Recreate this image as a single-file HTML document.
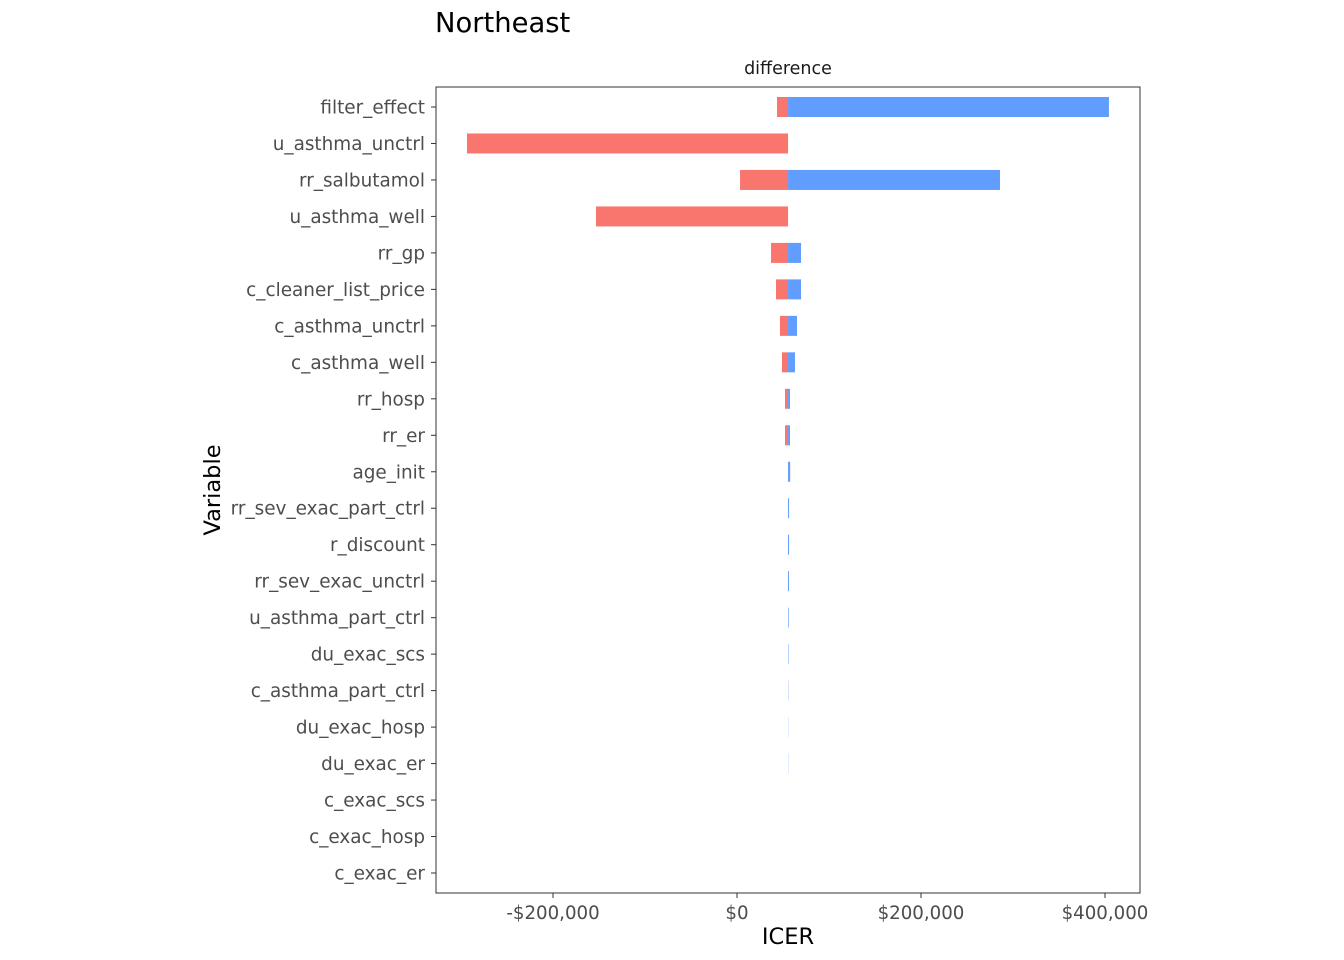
<!DOCTYPE html>
<html><head><meta charset="utf-8">
<style>
html,body{margin:0;padding:0;background:#fff;}
svg{display:block;font-family:"DejaVu Sans","Liberation Sans",sans-serif;}
</style></head>
<body>
<svg id="chart" width="1344" height="960">
  <text x="435" y="32" font-size="27.4" fill="#000">Northeast</text>
  <text x="788" y="74" font-size="17.5" fill="#1a1a1a" text-anchor="middle">difference</text>
  <rect x="436" y="87" width="704" height="806" fill="#fff" stroke="#333" stroke-width="1"/>
  <g id="bars"></g>
  <g id="yaxis"></g>
  <g id="xaxis"></g>
  <text x="788" y="944" font-size="22.5" fill="#000" text-anchor="middle">ICER</text>
  <text transform="translate(220,490) rotate(-90)" font-size="22.5" fill="#000" text-anchor="middle">Variable</text>
</svg>
<script>
const categories = ["filter_effect","u_asthma_unctrl","rr_salbutamol","u_asthma_well","rr_gp","c_cleaner_list_price","c_asthma_unctrl","c_asthma_well","rr_hosp","rr_er","age_init","rr_sev_exac_part_ctrl","r_discount","rr_sev_exac_unctrl","u_asthma_part_ctrl","du_exac_scs","c_asthma_part_ctrl","du_exac_hosp","du_exac_er","c_exac_scs","c_exac_hosp","c_exac_er"];
const baseValue = 55500;
const lowValues = [43500,-293500,3300,-153300,37000,42400,46700,48900,52200,52200,55400,55400,55400,55400,55500,55500,55500,55500,55500,55500,55500,55500];
const highValues = [404300,55500,285900,55500,69600,69600,65200,63000,57600,57600,57800,56600,56600,56500,56200,56000,55800,55700,55700,55500,55500,55500];
const xTicks = [-200000,0,200000,400000];
const xTickLabels = ["-$200,000","$0","$200,000","$400,000"];

const NS="http://www.w3.org/2000/svg";
const xScale = v => 737 + v*184/200000;
const yScale = i => 107 + i*(873-107)/21;
const barH = 20;
function mk(tag, attrs, parent){const e=document.createElementNS(NS,tag);for(const k in attrs)e.setAttribute(k,attrs[k]);parent.appendChild(e);return e;}
const bars=document.getElementById('bars'), ya=document.getElementById('yaxis'), xa=document.getElementById('xaxis');
categories.forEach((c,i)=>{
  const y=yScale(i);
  const b=xScale(baseValue), lo=xScale(lowValues[i]), hi=xScale(highValues[i]);
  const lx=Math.min(lo,b), lw=Math.abs(b-lo);
  if(lw>0.05){
    const r=mk('rect',{x:lx,y:y-barH/2,width:lw,height:barH,fill:'#F8766D'},bars);
    
    
  }
  const hx=Math.min(hi,b), hw=Math.abs(hi-b);
  if(hw>0.05){
    const r=mk('rect',{x:hx,y:y-barH/2,width:hw,height:barH,fill:'#619CFF'},bars);
    
    
  }
  const t=mk('line',{x1:431,x2:436,y1:y,y2:y,stroke:'#333','stroke-width':1},ya);
  
  
  const l=mk('text',{x:425,y:y+6.5,'font-size':18.4,fill:'#4d4d4d','text-anchor':'end'},ya);
  l.textContent=c;
  
  
});
xTicks.forEach((v,i)=>{
  const x=xScale(v);
  const t=mk('line',{x1:x,x2:x,y1:893,y2:898,stroke:'#333','stroke-width':1},xa);
  
  
  const l=mk('text',{x:x,y:919,'font-size':18.2,fill:'#4d4d4d','text-anchor':'middle'},xa);
  l.textContent=xTickLabels[i];
  
  
});
</script>
</body></html>
